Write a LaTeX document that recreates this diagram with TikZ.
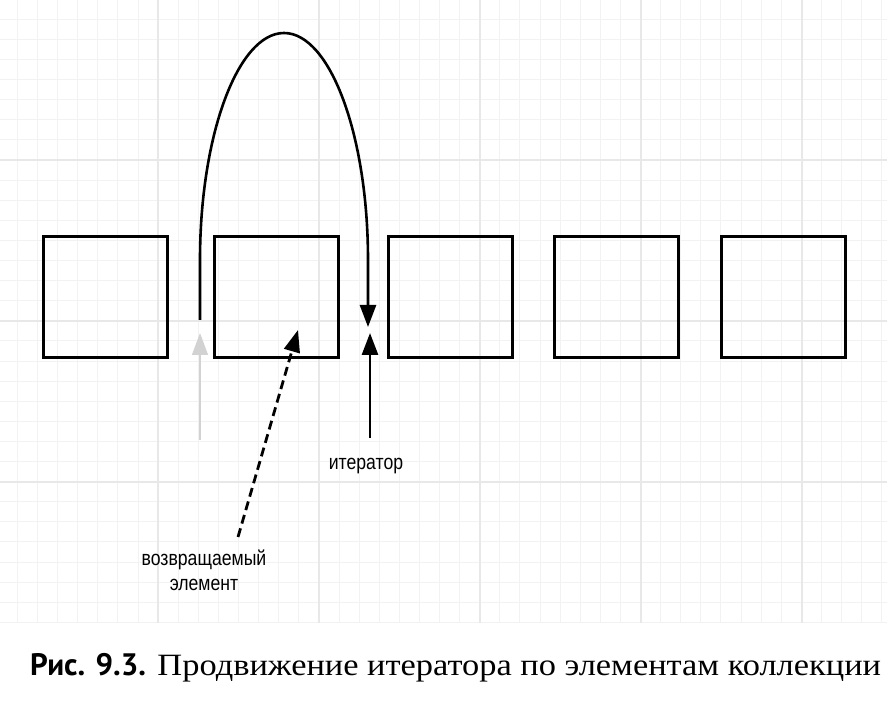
\documentclass[tikz,border=0pt]{standalone}
\usepackage{fontspec}
\setmainfont[FakeStretch=1.11]{Liberation Serif}
\newfontfamily\notefont[FakeStretch=0.84]{Liberation Sans}
\newfontfamily\capfont{PT Sans}
\usepackage{tikz}
\usetikzlibrary{arrows.meta,positioning}
\tikzset{
  basic/.style  = {draw, rectangle, line width=3pt, inner sep=0pt},
  elem/.style   = {basic, minimum width=124pt, minimum height=121pt},
  note/.style   = {font=\notefont\fontsize{21}{25}\selectfont, align=center, inner sep=0pt},
  ptr/.style    = {line width=2.8pt, -{Triangle[length=22pt,width=16pt]}},
  fine grid/.style  = {gray!10, line width=0.8pt},
  major grid/.style = {gray!18, line width=1.1pt}
}

\begin{document}
\begin{tikzpicture}[x=1pt, y=-1pt]
\useasboundingbox (0,0) rectangle (887,708);

% grid paper in the background
\foreach \k in {-7,...,36}
  \draw[fine grid] ({158+20.1*\k},0) -- ({158+20.1*\k},623);
\foreach \k in {-7,...,23}
  \draw[fine grid] (0,{160+20.1*\k}) -- (887,{160+20.1*\k});
\foreach \gx in {158,319,480,641,802}
  \draw[major grid] (\gx,0) -- (\gx,623);
\foreach \gy in {160,321,482}
  \draw[major grid] (0,\gy) -- (887,\gy);

% the elements of the collection
\node[elem] (e1) at (105,297) {};
\node[elem, right=44.5pt of e1] (e2) {};
\node[elem, right=46.5pt of e2] (e3) {};
\node[elem, right=39pt of e3] (e4) {};
\node[elem, right=40pt of e4] (e5) {};

% end points of the connectors
\coordinate (oldpos) at (200,440);
\coordinate (oldtip) at (200,333);
\coordinate (jumpfrom) at (200,320);
\coordinate (jumpto) at (368,327);
\coordinate (itfrom) at (370,438);
\coordinate (itto) at (370,333);
\coordinate (retfrom) at (238,537);
\coordinate (retto) at (298,330);

% the iterator moves over the next element
\draw[ptr, gray!35, line width=1.2pt] (oldpos) -- (oldtip);
\draw[ptr, line width=2.6pt] (jumpfrom) -- (200,260)
  .. controls (200,135) and (238,33) .. (284,33)
  .. controls (330,33) and (368,135) .. (368,260) -- (jumpto);
\draw[ptr] (itfrom) -- (itto);
\draw[ptr, dashed, dash pattern=on 9pt off 5pt] (retfrom) -- (retto);

% labels
\node[note] (itlab) at (366,466) {итератор};
\node[note] (retlab) at (204,570) {возвращаемый\\элемент};

% caption
\node[anchor=base west, inner sep=0pt, font=\fontsize{31}{34}\selectfont] (cap) at (30,675)
  {{\capfont\bfseries Рис. 9.3.} Продвижение итератора по элементам коллекции};
\end{tikzpicture}
\end{document}
